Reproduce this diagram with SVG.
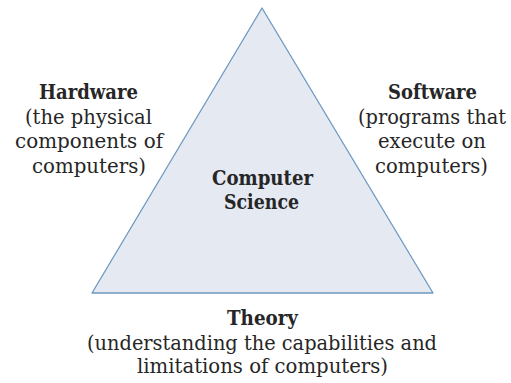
<svg xmlns="http://www.w3.org/2000/svg" width="511" height="383" viewBox="0 0 511 383">
<style>
text{font-family:"DejaVu Serif","Liberation Serif",serif;font-size:19.5px;fill:#262626}
.b{font-weight:bold}
</style>
<rect width="511" height="383" fill="#ffffff"/>
<g id="triangle">
<polygon points="262,8 92,293 433,293" fill="#e4e9f2" stroke="#6f98c0" stroke-width="1.3" stroke-linejoin="round"/>
</g>
<g id="center">
<text class="b" x="212" y="185" textLength="101" lengthAdjust="spacingAndGlyphs">Computer</text>
<text class="b" x="224" y="209" textLength="75" lengthAdjust="spacingAndGlyphs">Science</text>
</g>
<g id="hardware">
<text class="b" x="39" y="99" textLength="99" lengthAdjust="spacingAndGlyphs">Hardware</text>
<text x="25" y="124" textLength="127" lengthAdjust="spacingAndGlyphs">(the physical</text>
<text x="15" y="148" textLength="148" lengthAdjust="spacingAndGlyphs">components of</text>
<text x="32" y="173" textLength="114" lengthAdjust="spacingAndGlyphs">computers)</text>
</g>
<g id="software">
<text class="b" x="388" y="99" textLength="89" lengthAdjust="spacingAndGlyphs">Software</text>
<text x="358" y="124" textLength="148" lengthAdjust="spacingAndGlyphs">(programs that</text>
<text x="378" y="148" textLength="108" lengthAdjust="spacingAndGlyphs">execute on</text>
<text x="375" y="173" textLength="113" lengthAdjust="spacingAndGlyphs">computers)</text>
</g>
<g id="theory">
<text class="b" x="227" y="325" textLength="71" lengthAdjust="spacingAndGlyphs">Theory</text>
<text x="87" y="350" textLength="350" lengthAdjust="spacingAndGlyphs">(understanding the capabilities and</text>
<text x="137" y="373" textLength="251" lengthAdjust="spacingAndGlyphs">limitations of computers)</text>
</g>
<g id="connectors"></g>
</svg>
